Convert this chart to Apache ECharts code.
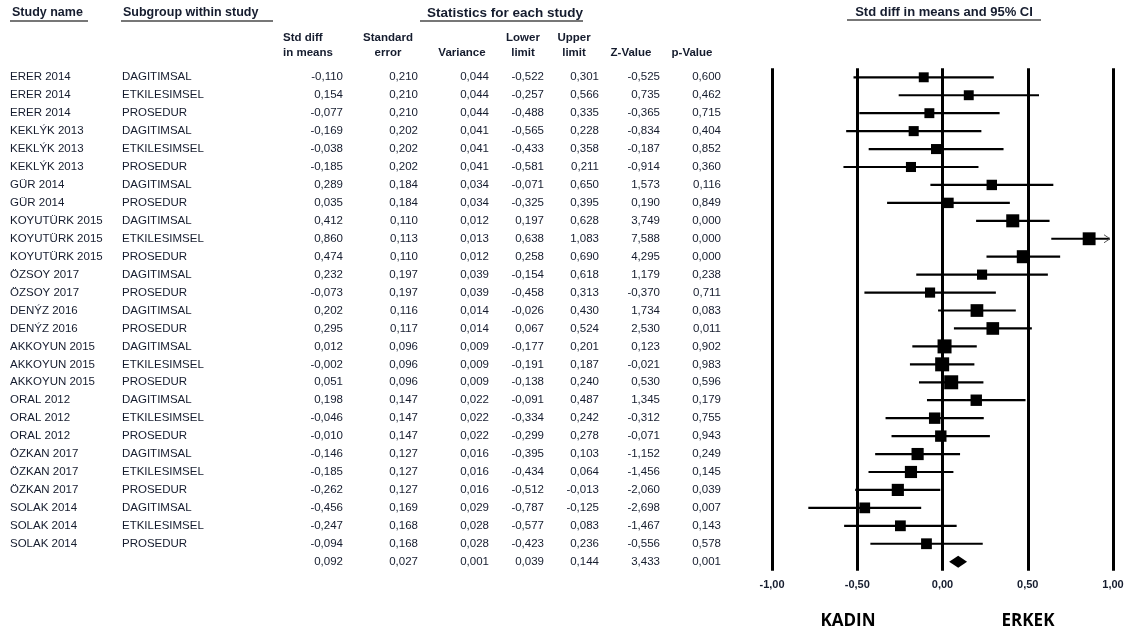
<!DOCTYPE html>
<html><head><meta charset="utf-8">
<script src="https://cdn.jsdelivr.net/npm/echarts@6/dist/echarts.min.js"></script>
<style>html,body{margin:0;padding:0;background:#fff}#c{width:1133px;height:635px}</style>
</head><body><div id="c"></div>
<script>
// ---------------- DATA ----------------
const studyNames = [
  "ERER 2014","ERER 2014","ERER 2014",
  "KEKLÝK 2013","KEKLÝK 2013","KEKLÝK 2013",
  "GÜR 2014","GÜR 2014",
  "KOYUTÜRK 2015","KOYUTÜRK 2015","KOYUTÜRK 2015",
  "ÖZSOY 2017","ÖZSOY 2017",
  "DENÝZ 2016","DENÝZ 2016",
  "AKKOYUN 2015","AKKOYUN 2015","AKKOYUN 2015",
  "ORAL 2012","ORAL 2012","ORAL 2012",
  "ÖZKAN 2017","ÖZKAN 2017","ÖZKAN 2017",
  "SOLAK 2014","SOLAK 2014","SOLAK 2014"
];
const subgroups = [
  "DAGITIMSAL","ETKILESIMSEL","PROSEDUR",
  "DAGITIMSAL","ETKILESIMSEL","PROSEDUR",
  "DAGITIMSAL","PROSEDUR",
  "DAGITIMSAL","ETKILESIMSEL","PROSEDUR",
  "DAGITIMSAL","PROSEDUR",
  "DAGITIMSAL","PROSEDUR",
  "DAGITIMSAL","ETKILESIMSEL","PROSEDUR",
  "DAGITIMSAL","ETKILESIMSEL","PROSEDUR",
  "DAGITIMSAL","ETKILESIMSEL","PROSEDUR",
  "DAGITIMSAL","ETKILESIMSEL","PROSEDUR"
];
const stdDiff = [-0.110,0.154,-0.077,-0.169,-0.038,-0.185,0.289,0.035,0.412,0.860,0.474,0.232,-0.073,0.202,0.295,0.012,-0.002,0.051,0.198,-0.046,-0.010,-0.146,-0.185,-0.262,-0.456,-0.247,-0.094];
const stdErr = [0.210,0.210,0.210,0.202,0.202,0.202,0.184,0.184,0.110,0.113,0.110,0.197,0.197,0.116,0.117,0.096,0.096,0.096,0.147,0.147,0.147,0.127,0.127,0.127,0.169,0.168,0.168];
const variance = [0.044,0.044,0.044,0.041,0.041,0.041,0.034,0.034,0.012,0.013,0.012,0.039,0.039,0.014,0.014,0.009,0.009,0.009,0.022,0.022,0.022,0.016,0.016,0.016,0.029,0.028,0.028];
const lowerLimit = [-0.522,-0.257,-0.488,-0.565,-0.433,-0.581,-0.071,-0.325,0.197,0.638,0.258,-0.154,-0.458,-0.026,0.067,-0.177,-0.191,-0.138,-0.091,-0.334,-0.299,-0.395,-0.434,-0.512,-0.787,-0.577,-0.423];
const upperLimit = [0.301,0.566,0.335,0.228,0.358,0.211,0.650,0.395,0.628,1.083,0.690,0.618,0.313,0.430,0.524,0.201,0.187,0.240,0.487,0.242,0.278,0.103,0.064,-0.013,-0.125,0.083,0.236];
const zValue = [-0.525,0.735,-0.365,-0.834,-0.187,-0.914,1.573,0.190,3.749,7.588,4.295,1.179,-0.370,1.734,2.530,0.123,-0.021,0.530,1.345,-0.312,-0.071,-1.152,-1.456,-2.060,-2.698,-1.467,-0.556];
const pValue = [0.600,0.462,0.715,0.404,0.852,0.360,0.116,0.849,0.000,0.000,0.000,0.238,0.711,0.083,0.011,0.902,0.983,0.596,0.179,0.755,0.943,0.249,0.145,0.039,0.007,0.143,0.578];
// summary row: stdDiff, stdErr, variance, lower, upper, z, p
const summaryRow = [0.092,0.027,0.001,0.039,0.144,3.433,0.001];
const xTicks = [-1,-0.5,0,0.5,1];
const sideLabels = ["KADIN","ERKEK"];
const columnHeaders = [["Std diff","in means"],["Standard","error"],["","Variance"],["Lower","limit"],["Upper","limit"],["","Z-Value"],["","p-Value"]];

// ---------------- LAYOUT / STYLE ----------------
const TXT = '#151c2e';
const FONT = '"Liberation Sans", Arial, sans-serif';
const numColsRight = [343,418,489,544,599,660,721];
const fmt = v => v.toFixed(3).replace('.', ',');
const nRows = studyNames.length;

const chart = echarts.init(document.getElementById('c'), null, {renderer:'canvas'});

const ciData = stdDiff.map((d,i)=>[lowerLimit[i], upperLimit[i], d, stdErr[i], i]);
const tableData = stdDiff.map((d,i)=>[0,i]).concat([[0,nRows]]);

function tableItem(params, api){
  const i = params.dataIndex;
  const y = api.coord([0, i])[1];
  const children = [];
  const base = {fill: TXT, font: '11.5px ' + FONT, verticalAlign:'middle'};
  let vals;
  if (i < nRows) {
    children.push({type:'text', style:Object.assign({text:studyNames[i], x:10, y:y, align:'left'}, base)});
    children.push({type:'text', style:Object.assign({text:subgroups[i], x:122, y:y, align:'left'}, base)});
    vals = [stdDiff[i], stdErr[i], variance[i], lowerLimit[i], upperLimit[i], zValue[i], pValue[i]];
  } else {
    vals = summaryRow;
  }
  vals.forEach((v,k)=>{
    children.push({type:'text', style:Object.assign({text:fmt(v), x:numColsRight[k], y:y, align:'right'}, base)});
  });
  return {type:'group', children};
}

function ciItem(params, api){
  const lo = api.value(0), hi = api.value(1), m = api.value(2), se = api.value(3), r = api.value(4);
  const p1 = api.coord([Math.max(lo,-1), r]);
  const p2 = api.coord([Math.min(hi,1), r]);
  const pm = api.coord([m, r]);
  const s = 6.5 + 0.72/se;
  const children = [
    {type:'line', shape:{x1:p1[0], y1:p1[1], x2:p2[0]-(hi>1?3:0), y2:p2[1]}, style:{stroke:'#000', lineWidth:2.2}},
    {type:'rect', shape:{x:pm[0]-s/2, y:pm[1]-s/2, width:s, height:s}, style:{fill:'#000'}}
  ];
  if (hi > 1) {
    const ax = p2[0]-3, ay = p2[1];
    children.push({type:'polyline', shape:{points:[[ax-6,ay-4],[ax,ay],[ax-6,ay+4]]}, style:{stroke:'#555', lineWidth:1, fill:null}});
  }
  return {type:'group', children};
}

function diamondItem(params, api){
  const lo = api.coord([summaryRow[3], nRows]);
  const hi = api.coord([summaryRow[4], nRows]);
  const c = api.coord([summaryRow[0], nRows]);
  const h = 6;
  return {type:'polygon', shape:{points:[[lo[0],c[1]],[c[0],c[1]-h],[hi[0],c[1]],[c[0],c[1]+h]]}, style:{fill:'#000'}};
}

const graphics = [];
function addText(text, x, y, align, font, color){
  graphics.push({type:'text', x:x, y:y, style:{text, align, verticalAlign:'middle', font, fill:color||TXT}});
}
function addLine(x1,x2,y){
  graphics.push({type:'line', shape:{x1,y1:y,x2,y2:y}, style:{stroke:'#4a4a4a', lineWidth:1.5}});
}
const HF = 'bold 12.5px ' + FONT;
addText('Study name', 12, 13, 'left', HF); addLine(10, 88, 21);
addText('Subgroup within study', 123, 13, 'left', HF); addLine(121, 273, 21);
addText('Statistics for each study', 505, 13, 'center', 'bold 13.5px ' + FONT); addLine(420, 583, 21);
addText('Std diff in means and 95% CI', 944, 12, 'center', 'bold 13px ' + FONT); addLine(847, 1041, 20);
const headerCenters = [null, 388, 462, 523, 574, 631, 692];
columnHeaders.forEach((h,k)=>{
  const CF = 'bold 11.5px ' + FONT;
  if (k === 0) {
    addText(h[0], 283, 38, 'left', CF); addText(h[1], 283, 53, 'left', CF);
  } else {
    if (h[0]) addText(h[0], headerCenters[k], 38, 'center', CF);
    addText(h[1], headerCenters[k], 53, 'center', CF);
  }
});
addText(sideLabels[0], 848, 621, 'center', 'bold 17px "Open Sans", sans-serif', '#000');
addText(sideLabels[1], 1028, 621, 'center', 'bold 17px "Open Sans", sans-serif', '#000');

const rowH = 17.94;
chart.setOption({
  animation:false,
  backgroundColor:'#fff',
  grid:{left:772, width:341, top:77.3 - 0.5*rowH, height:28*rowH, outerBoundsMode:'none', containLabel:false},
  xAxis:{type:'value', min:xTicks[0], max:xTicks[xTicks.length-1], interval:0.5,
    axisLine:{show:false}, axisTick:{show:false},
    splitLine:{show:true, lineStyle:{color:'#000', width:3}},
    axisLabel:{formatter:v=>v.toFixed(2).replace('.', ','), color:TXT, fontWeight:'bold', fontSize:11, fontFamily:'"Liberation Sans", Arial', margin:9, showMinLabel:true, showMaxLabel:true}},
  yAxis:{type:'value', min:-0.5, max:27.5, inverse:true, show:false, splitLine:{show:false}},
  graphic: graphics,
  series:[
    {type:'custom', name:'ci', renderItem:ciItem, data:ciData, encode:{x:[0,1,2], y:4}, clip:false, silent:true},
    {type:'custom', name:'summary', renderItem:diamondItem, data:[[summaryRow[0], nRows]], clip:false, silent:true},
    {type:'custom', name:'table', renderItem:tableItem, data:tableData, encode:{x:0,y:1}, clip:false, silent:true}
  ]
});
</script></body></html>
